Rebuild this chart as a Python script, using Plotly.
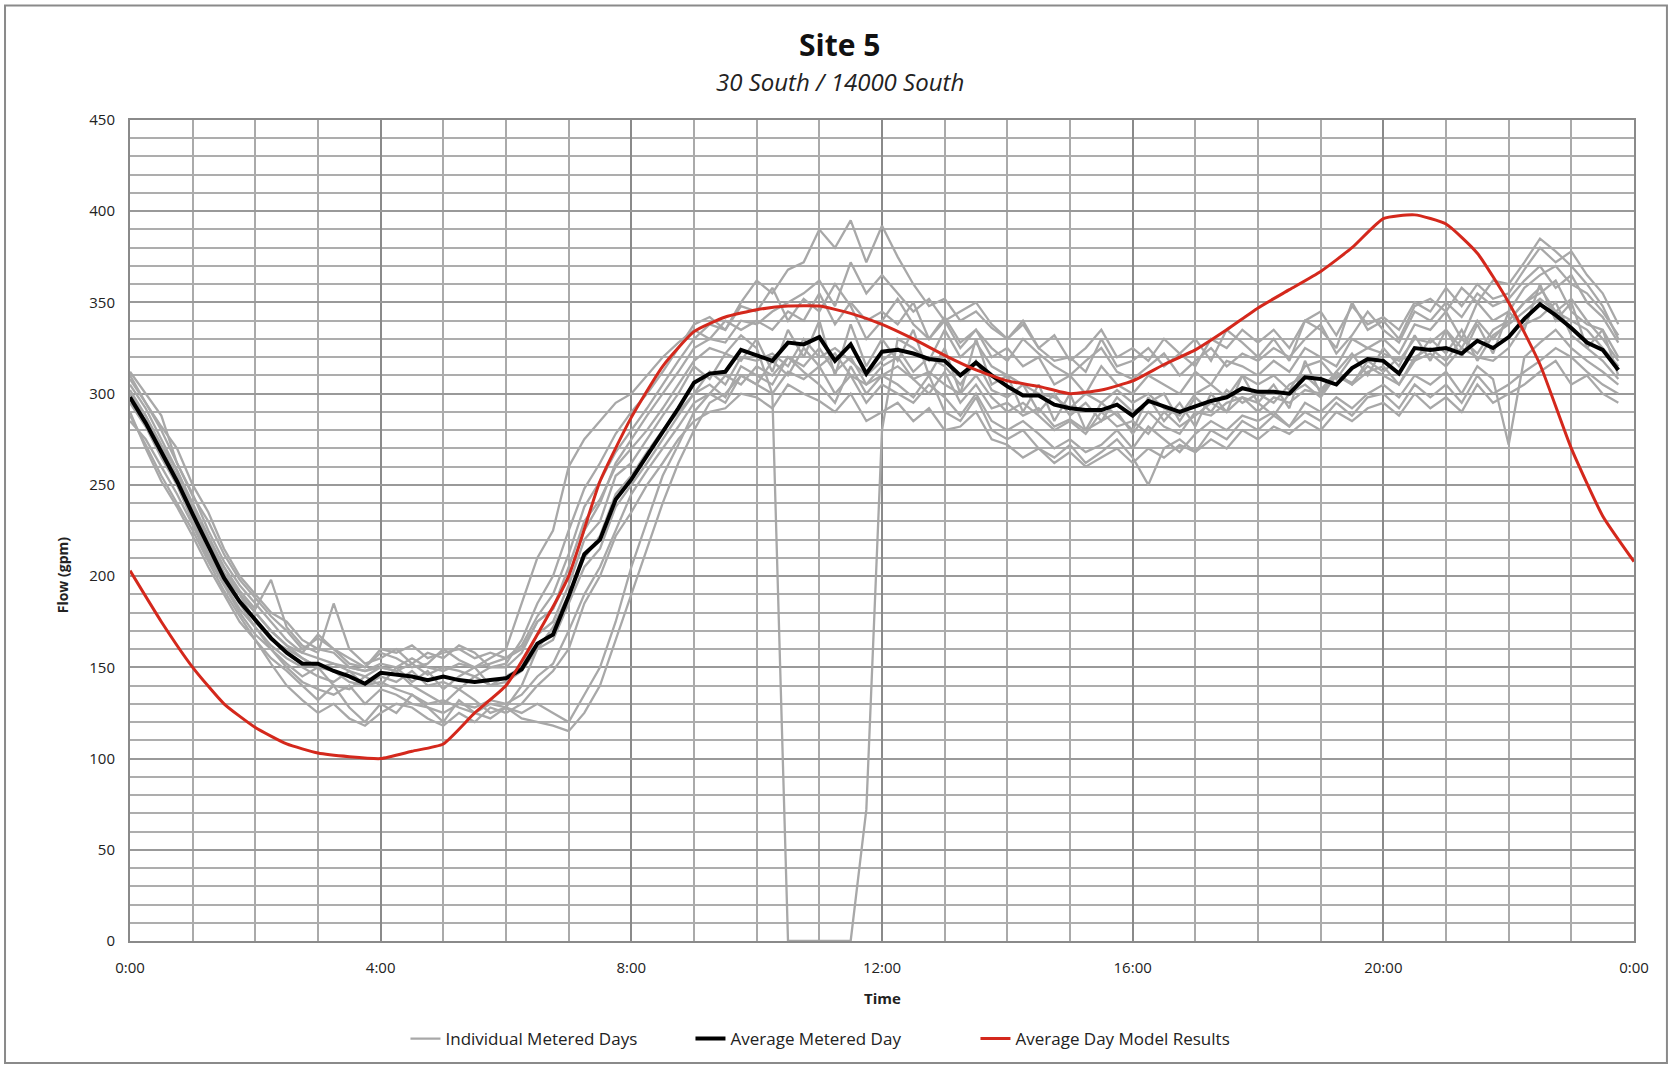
import pandas as pd
import plotly.graph_objects as go

# ---------------- data ----------------
times_15 = pd.date_range("2020-01-01 00:00", periods=96, freq="15min")
times_30 = pd.date_range("2020-01-01 00:00", periods=49, freq="30min")

average_metered = [
    298, 284, 268, 252, 234, 216, 199, 186,
    176, 166, 158, 152, 152, 148, 145, 141,
    147, 146, 145, 143, 145, 143, 142, 143,
    144, 149, 163, 168, 189, 212, 220, 242,
    253, 266, 279, 292, 306, 311, 312, 324,
    321, 318, 328, 327, 331, 318, 327, 311,
    323, 324, 322, 319, 318, 310, 317, 310,
    304, 299, 299, 294, 292, 291, 291, 294,
    288, 296, 293, 290, 293, 296, 298, 303,
    301, 301, 300, 309, 308, 305, 314, 319,
    318, 311, 325, 324, 325, 322, 329, 325,
    331, 341, 349, 343, 336, 328, 324, 313,
]

model_results = [
    203, 175, 150, 130, 117, 108, 103, 101, 100, 104,
    108, 125, 140, 168, 200, 252, 287, 315, 334, 342,
    346, 348, 348, 344, 338, 330, 321, 313, 307, 304,
    300, 302, 307, 316, 324, 335, 347, 357, 367, 380,
    396, 398, 393, 377, 350, 316, 270, 233, 208,
]

day_01 = [312, 300, 288, 262, 244, 230, 212, 198, 188, 178, 170, 160, 166, 160, 152, 150,
          158, 155, 150, 152, 160, 154, 150, 152, 155, 162, 178, 190, 212, 238, 252, 268,
          280, 292, 305, 318, 330, 338, 335, 350, 362, 355, 368, 372, 390, 380, 395, 372,
          392, 375, 360, 348, 352, 340, 345, 336, 330, 340, 325, 318, 320, 312, 330, 315,
          318, 325, 315, 322, 330, 318, 335, 328, 320, 330, 318, 340, 335, 325, 350, 335,
          340, 330, 348, 352, 345, 358, 350, 362, 360, 372, 385, 378, 370, 360, 348, 330]
day_02 = [290, 270, 252, 238, 222, 205, 190, 175, 165, 152, 140, 132, 125, 130, 122, 118,
          125, 130, 128, 122, 118, 125, 120, 128, 125, 130, 140, 148, 160, 185, 200, 222,
          235, 250, 262, 275, 285, 290, 292, 300, 298, 292, 305, 300, 296, 290, 300, 285,
          290, 295, 285, 292, 280, 282, 290, 275, 272, 265, 270, 262, 268, 260, 265, 270,
          262, 270, 265, 272, 268, 275, 270, 280, 275, 282, 278, 285, 280, 290, 285, 292,
          295, 288, 300, 292, 298, 290, 305, 295, 300, 305, 312, 318, 305, 310, 300, 295]
day_03 = [308, 295, 282, 270, 250, 235, 215, 200, 190, 180, 175, 165, 160, 158, 150, 148,
          150, 148, 140, 135, 130, 138, 132, 125, 128, 122, 120, 118, 115, 125, 140, 165,
          190, 215, 240, 262, 280, 295, 300, 310, 305, 318, 310, 325, 315, 322, 310, 305,
          315, 320, 308, 312, 305, 300, 310, 298, 290, 295, 288, 280, 285, 278, 290, 282,
          285, 278, 290, 282, 288, 295, 290, 298, 295, 288, 300, 305, 298, 310, 305, 312,
          315, 305, 320, 325, 318, 330, 322, 335, 340, 350, 358, 345, 352, 340, 330, 318]
day_04 = [300, 288, 270, 255, 235, 218, 200, 190, 180, 170, 162, 155, 150, 152, 148, 145,
          150, 148, 152, 146, 150, 148, 145, 150, 150, 158, 175, 182, 205, 230, 242, 260,
          270, 280, 292, 305, 318, 325, 322, 332, 325, 300, 0, 0, 0, 0, 0, 72,
          280, 330, 325, 318, 335, 320, 328, 315, 310, 305, 300, 298, 292, 300, 295, 302,
          295, 300, 292, 288, 300, 305, 298, 310, 305, 310, 302, 315, 318, 308, 320, 325,
          322, 318, 330, 328, 335, 325, 340, 330, 340, 350, 355, 362, 345, 338, 335, 320]
day_05 = [305, 292, 275, 258, 240, 222, 205, 192, 182, 198, 172, 162, 158, 185, 160, 152,
          155, 160, 152, 158, 155, 162, 158, 150, 152, 165, 185, 200, 225, 248, 262, 278,
          290, 300, 312, 325, 338, 342, 335, 348, 345, 358, 340, 352, 345, 360, 348, 330,
          340, 352, 338, 330, 342, 328, 335, 325, 318, 330, 322, 315, 310, 318, 325, 312,
          308, 315, 322, 310, 318, 325, 315, 322, 318, 325, 320, 330, 338, 322, 332, 345,
          335, 328, 345, 340, 350, 342, 355, 348, 352, 362, 370, 358, 365, 350, 342, 328]
day_06 = [285, 275, 260, 245, 228, 210, 195, 180, 168, 160, 150, 142, 138, 135, 140, 130,
          138, 135, 130, 128, 125, 130, 128, 132, 130, 135, 145, 152, 170, 190, 205, 225,
          245, 258, 270, 282, 295, 300, 295, 310, 305, 300, 312, 308, 315, 300, 310, 295,
          305, 300, 295, 305, 298, 288, 300, 285, 280, 285, 278, 270, 275, 268, 272, 280,
          270, 282, 275, 268, 278, 285, 280, 288, 285, 290, 282, 295, 290, 298, 292, 300,
          305, 298, 310, 305, 312, 300, 315, 308, 272, 320, 328, 335, 325, 318, 312, 305]
day_07 = [295, 282, 265, 250, 232, 212, 196, 182, 172, 160, 152, 145, 150, 140, 138, 145,
          140, 150, 142, 148, 138, 145, 150, 140, 145, 150, 168, 175, 195, 220, 230, 255,
          262, 275, 288, 300, 315, 308, 322, 318, 330, 312, 335, 320, 340, 310, 338, 315,
          330, 318, 335, 310, 325, 300, 330, 305, 310, 290, 305, 285, 300, 280, 295, 288,
          280, 298, 285, 295, 282, 300, 290, 310, 295, 305, 292, 318, 300, 312, 322, 310,
          325, 315, 332, 318, 335, 320, 338, 322, 345, 335, 360, 340, 350, 325, 335, 310]
day_08 = [302, 288, 272, 258, 238, 220, 205, 190, 175, 165, 160, 155, 150, 148, 142, 140,
          142, 138, 135, 130, 132, 128, 125, 130, 128, 125, 130, 125, 120, 135, 150, 175,
          205, 230, 255, 272, 290, 300, 310, 305, 315, 310, 320, 315, 325, 312, 320, 305,
          310, 315, 308, 300, 312, 295, 305, 292, 295, 288, 292, 282, 286, 280, 285, 290,
          278, 290, 282, 278, 290, 288, 295, 298, 290, 298, 295, 302, 300, 310, 306, 315,
          310, 305, 318, 322, 315, 325, 320, 318, 325, 338, 342, 350, 332, 325, 318, 308]
day_09 = [310, 295, 280, 262, 245, 225, 208, 195, 185, 175, 165, 158, 155, 152, 150, 148,
          152, 150, 155, 150, 148, 152, 150, 155, 160, 185, 210, 225, 260, 275, 285, 295,
          300, 310, 320, 328, 335, 330, 340, 335, 340, 335, 345, 340, 355, 338, 350, 340,
          345, 338, 350, 330, 340, 325, 335, 320, 325, 315, 320, 305, 310, 300, 315, 305,
          300, 310, 305, 300, 312, 305, 318, 315, 310, 318, 312, 325, 320, 315, 330, 325,
          330, 322, 338, 335, 345, 330, 350, 340, 345, 358, 365, 370, 360, 355, 345, 332]
day_10 = [288, 272, 255, 240, 225, 208, 192, 178, 165, 155, 148, 140, 132, 140, 128, 120,
          130, 125, 135, 128, 120, 132, 125, 122, 128, 140, 160, 172, 190, 210, 222, 245,
          255, 268, 280, 290, 300, 305, 298, 315, 310, 305, 320, 312, 305, 295, 315, 300,
          310, 305, 298, 310, 290, 285, 298, 280, 275, 280, 270, 265, 272, 262, 268, 275,
          265, 250, 270, 275, 268, 280, 275, 285, 280, 288, 282, 290, 285, 295, 288, 298,
          300, 292, 305, 298, 305, 295, 310, 300, 305, 312, 318, 325, 320, 312, 305, 300]
day_11 = [298, 285, 270, 255, 238, 220, 202, 190, 180, 170, 162, 158, 168, 160, 155, 150,
          160, 158, 162, 155, 158, 160, 155, 158, 155, 160, 175, 182, 200, 225, 240, 262,
          275, 288, 300, 312, 325, 330, 328, 340, 338, 345, 350, 355, 362, 348, 372, 355,
          365, 355, 345, 352, 340, 345, 350, 338, 330, 338, 325, 332, 318, 325, 335, 320,
          325, 318, 330, 322, 315, 330, 325, 335, 328, 335, 325, 340, 345, 332, 348, 338,
          342, 335, 350, 345, 358, 348, 360, 352, 355, 368, 380, 372, 378, 365, 355, 338]
day_12 = [300, 285, 268, 250, 230, 212, 198, 185, 172, 162, 155, 150, 145, 142, 148, 140,
          145, 142, 148, 140, 142, 138, 145, 140, 142, 148, 160, 165, 185, 205, 215, 238,
          250, 262, 275, 288, 300, 312, 305, 320, 318, 322, 315, 330, 320, 325, 318, 310,
          318, 325, 312, 320, 315, 305, 318, 302, 298, 305, 290, 300, 288, 295, 285, 298,
          290, 295, 300, 285, 298, 290, 302, 295, 300, 295, 305, 310, 302, 312, 305, 318,
          312, 320, 318, 330, 322, 335, 318, 332, 338, 345, 352, 345, 340, 335, 325, 315]

individual_days = [day_01, day_02, day_03, day_04, day_05, day_06,
                   day_07, day_08, day_09, day_10, day_11, day_12]

x_tick_labels = ["0:00", "4:00", "8:00", "12:00", "16:00", "20:00", "0:00"]
x_tick_vals = pd.date_range("2020-01-01 00:00", periods=7, freq="4h")
y_tick_vals = [0, 50, 100, 150, 200, 250, 300, 350, 400, 450]

# ---------------- figure ----------------
GRAY = "#a8a8a8"
fig = go.Figure()

for i, day in enumerate(individual_days):
    fig.add_trace(go.Scatter(
        x=times_15, y=day, mode="lines",
        line=dict(color=GRAY, width=2.3),
        name="Individual Metered Days", legendgroup="ind",
        showlegend=(i == 0),
    ))

fig.add_trace(go.Scatter(
    x=times_15, y=average_metered, mode="lines",
    line=dict(color="#000000", width=4),
    name="Average Metered Day",
))

fig.add_trace(go.Scatter(
    x=times_30, y=model_results, mode="lines",
    line=dict(color="#d4281c", width=3, shape="spline", smoothing=0.5),
    name="Average Day Model Results",
))

TICKFONT = dict(family="Open Sans, Liberation Sans, sans-serif", size=15, color="#222222")

fig.update_xaxes(
    type="date",
    range=["2020-01-01 00:00", "2020-01-02 00:00"],
    tickvals=x_tick_vals, ticktext=x_tick_labels,
    showgrid=True, gridcolor="#8a8a8a", gridwidth=2,
    minor=dict(dtick=3600000, showgrid=True, gridcolor="#aaaaaa", gridwidth=1.6),
    showline=True, linecolor="#8a8a8a", linewidth=2, mirror=True,
    ticks="", tickfont=TICKFONT, ticklabelstandoff=12,
    zeroline=False,
)
fig.update_yaxes(
    range=[0, 450],
    tickvals=y_tick_vals,
    showgrid=True, gridcolor="#999999", gridwidth=1.8,
    minor=dict(dtick=10, showgrid=True, gridcolor="#adadad", gridwidth=1.6),
    showline=True, linecolor="#8a8a8a", linewidth=2, mirror=True,
    ticks="", tickfont=TICKFONT, ticklabelstandoff=10,
    zeroline=False,
)

fig.update_layout(
    width=1673, height=1068,
    margin=dict(l=130, r=39, t=120, b=126),
    paper_bgcolor="white", plot_bgcolor="white",
    showlegend=True,
    legend=dict(
        orientation="h", x=0.4674, xanchor="center", y=-0.118, yanchor="middle",
        font=dict(family="Open Sans, Liberation Sans, sans-serif", size=17, color="#222222"),
        bgcolor="rgba(0,0,0,0)", itemwidth=30, tracegroupgap=0,
        entrywidth=240, entrywidthmode="pixels",
    ),
    annotations=[
        dict(text="<b>Site 5</b>", x=0.472, y=1.0919, xref="paper", yref="paper",
             showarrow=False, xanchor="center", yanchor="middle",
             font=dict(family="Open Sans, sans-serif", size=30, color="#111111")),
        dict(text="<i>30 South / 14000 South</i>", x=0.472, y=1.0469, xref="paper", yref="paper",
             showarrow=False, xanchor="center", yanchor="middle",
             font=dict(family="Open Sans, sans-serif", size=24, color="#222222")),
        dict(text="<b>Time</b>", x=0.5, y=-0.0694, xref="paper", yref="paper",
             showarrow=False, xanchor="center", yanchor="middle",
             font=dict(family="Open Sans, sans-serif", size=15, color="#222222")),
        dict(text="<b>Flow (gpm)</b>", x=-0.0452, y=0.4455, xref="paper", yref="paper",
             showarrow=False, xanchor="center", yanchor="middle", textangle=-90,
             font=dict(family="Open Sans, sans-serif", size=14, color="#222222")),
    ],
    shapes=[
        dict(type="rect", xref="paper", yref="paper",
             x0=-0.0831, x1=1.0219, y0=-0.1485, y1=1.1394,
             line=dict(color="#8a8a8a", width=2), fillcolor="rgba(0,0,0,0)", layer="below"),
    ],
)

fig.write_html("out.html")
